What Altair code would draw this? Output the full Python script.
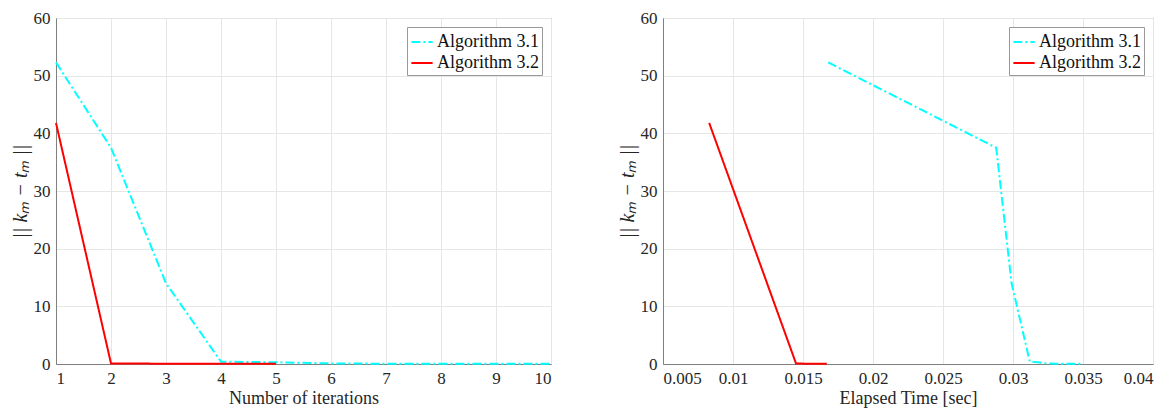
import altair as alt
import pandas as pd

series = ["Algorithm 3.1", "Algorithm 3.2"]

iter_31 = [1, 2, 3, 4, 5, 6, 7, 8, 9, 10]
err_31 = [52.3, 37.5, 14.0, 0.4, 0.3, 0.1, 0.05, 0.05, 0.05, 0.05]
time_31 = [0.0168, 0.0288, 0.0299, 0.0312, 0.0318, 0.0324, 0.0331, 0.0337, 0.0344, 0.0350]

iter_32 = [1, 2, 3, 4, 5]
err_32 = [41.8, 0.1, 0.05, 0.05, 0.05]
time_32 = [0.0083, 0.0145, 0.0152, 0.0160, 0.0167]

x1_ticks = [1, 2, 3, 4, 5, 6, 7, 8, 9, 10]
x2_ticks = [0.005, 0.01, 0.015, 0.02, 0.025, 0.03, 0.035, 0.04]
y_ticks = [0, 10, 20, 30, 40, 50, 60]

rows = []
for i, (it, e, t) in enumerate(zip(iter_31, err_31, time_31)):
    rows.append({"series": series[0], "iter": it, "err": e, "time": t, "order": i})
for i, (it, e, t) in enumerate(zip(iter_32, err_32, time_32)):
    rows.append({"series": series[1], "iter": it, "err": e, "time": t, "order": i})
df = pd.DataFrame(rows)

FONT = "Liberation Serif"
GRID = "#e6e6e6"
AX = "#808080"
TXT = "#262626"


def legend():
    return alt.Legend(title=None, orient="top-right", symbolType="stroke",
                      symbolStrokeWidth=2, symbolSize=450,
                      labelFont=FONT, labelFontSize=18, labelColor="#111",
                      strokeColor="#999", fillColor="white",
                      padding=3, rowPadding=0, offset=9, labelOffset=3)


color = alt.Color("series:N",
                  scale=alt.Scale(domain=series, range=["#00FFFF", "#FF0000"]),
                  legend=legend())
dash = alt.StrokeDash("series:N",
                      scale=alt.Scale(domain=series, range=[[9, 3, 2, 3], [1, 0]]),
                      legend=legend())


def axis(values, title, fmt=None, italic=False, tsize=18):
    kw = dict(values=values, title=title, labelFont=FONT, titleFont=FONT,
              labelFontSize=17, titleFontSize=tsize, labelColor=TXT, titleColor=TXT,
              titleFontWeight="normal", ticks=False, labelPadding=6,
              gridColor=GRID, domainColor=AX, titlePadding=3)
    if fmt:
        kw["format"] = fmt
    if italic:
        kw["titleFontStyle"] = "italic"
    return alt.Axis(**kw)


ylab = "|| kₘ − tₘ ||"
yenc = alt.Y("err:Q", scale=alt.Scale(domain=[0, 60], nice=False),
             axis=axis(y_ticks, ylab, italic=True, tsize=20))

left = alt.Chart(df).mark_line(strokeWidth=2).encode(
    x=alt.X("iter:Q", scale=alt.Scale(domain=[1, 10], nice=False),
            axis=axis(x1_ticks, "Number of iterations", "d")),
    y=yenc,
    color=color,
    strokeDash=dash,
    order="order:Q",
).properties(width=495, height=346)

right = alt.Chart(df).mark_line(strokeWidth=2).encode(
    x=alt.X("time:Q", scale=alt.Scale(domain=[0.005, 0.04], nice=False),
            axis=axis(x2_ticks, "Elapsed Time [sec]", "~g")),
    y=yenc,
    color=color,
    strokeDash=dash,
    order="order:Q",
).properties(width=490, height=346)

chart = alt.hconcat(left, right, spacing=60).resolve_scale(
    x="independent"
).resolve_legend(color="independent", strokeDash="independent").properties(
    padding={"left": 1, "top": 0, "right": 0, "bottom": 0}
).configure(font=FONT).configure_view(stroke=AX, strokeWidth=1)

chart.save("out.html", embed_options={"renderer": "svg", "actions": False})
